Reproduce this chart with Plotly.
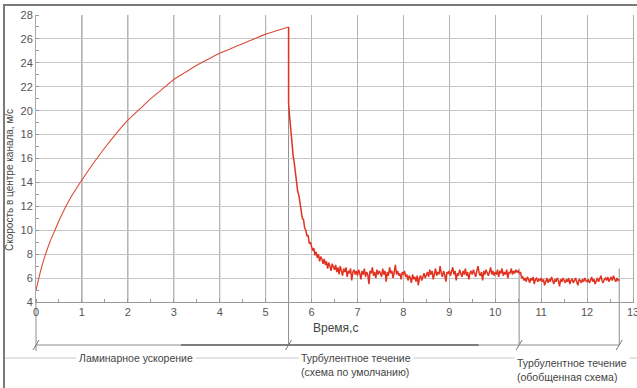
import plotly.graph_objects as go

# ---------------- data ----------------
lam_t = [0, 0.05, 0.1, 0.15, 0.2, 0.3, 0.4, 0.5, 0.75, 1, 1.25, 1.5, 1.75, 2, 2.25, 2.5,
         2.75, 3, 3.25, 3.5, 3.75, 4, 4.25, 4.5, 4.75, 5, 5.25, 5.5]
lam_v = [5.0, 5.8, 6.6, 7.3, 7.9, 9.0, 9.9, 10.8, 12.7, 14.2, 15.6, 16.9, 18.1, 19.2, 20.1, 21.0,
         21.8, 22.6, 23.2, 23.8, 24.3, 24.8, 25.2, 25.6, 26.0, 26.4, 26.7, 27.0]

turb_t0 = 5.5
turb_dt = 0.025
turb_v = [
    20.6, 19.4, 18.1, 17.3, 16.2, 15.6, 14.7, 14.1, 13.2, 12.9, 12.1, 11.8, 11.0, 10.9, 10.2, 10.0, 9.5, 9.6, 8.9, 9.0,
    8.7, 8.3, 8.5, 7.9, 8.2, 7.7, 8.0, 7.4, 7.8, 7.6, 7.2, 7.6, 7.1, 7.4, 6.8, 7.3, 7.0, 6.6, 7.2, 6.9,
    6.7, 7.1, 6.5, 6.9, 6.3, 7.0, 6.6, 6.2, 6.8, 6.5, 6.9, 6.1, 6.6, 6.4, 6.8, 5.8, 6.5, 6.7, 6.3, 6.6,
    6.2, 6.7, 6.4, 5.9, 6.6, 6.3, 6.8, 6.1, 6.5, 6.3, 5.5, 6.6, 6.4, 6.9, 6.2, 6.5, 6.0, 6.7, 6.3, 6.6,
    6.4, 6.1, 6.8, 6.3, 6.6, 5.7, 6.5, 6.2, 6.9, 6.4, 6.6, 6.0, 6.5, 7.1, 6.3, 6.6, 6.2, 6.4, 5.9, 6.5,
    6.3, 6.6, 6.1, 6.3, 5.8, 6.2, 6.0, 5.6, 6.3, 5.9, 6.1, 5.7, 6.2, 5.4, 6.0, 6.2, 5.8, 6.1, 6.4, 6.0,
    6.2, 6.5, 6.1, 6.7, 6.3, 6.6, 5.9, 6.4, 6.8, 6.2, 6.5, 6.3, 7.0, 6.4, 6.1, 6.6, 6.3, 5.7, 6.5, 6.4,
    6.6, 6.2, 6.5, 6.9, 6.3, 6.6, 5.8, 6.4, 6.2, 6.7, 6.4, 6.1, 6.6, 6.3, 6.8, 6.2, 6.5, 5.9, 6.4, 6.6,
    6.3, 6.7, 6.4, 6.1, 6.6, 7.0, 6.4, 6.2, 6.5, 5.8, 6.6, 6.3, 6.7, 6.4, 6.2, 6.5, 6.9, 6.3, 6.6, 6.2,
    6.5, 6.3, 6.7, 6.1, 6.6, 6.4, 6.8, 6.2, 6.5, 6.3, 6.7, 6.0, 6.5, 6.4, 6.8, 6.3, 6.6, 6.4, 6.7, 6.5,
    6.6, 6.4, 6.5, 6.0, 6.1, 5.8, 6.0, 5.7, 6.1, 5.9, 5.6, 6.0, 5.8, 6.1, 5.5, 5.9, 6.0, 5.7, 5.9, 5.8,
    6.0, 5.7, 5.9, 5.4, 5.8, 6.0, 5.6, 5.9, 5.7, 6.1, 5.8, 5.5, 5.9, 5.7, 6.0, 5.8, 5.3, 5.9, 5.7, 6.0,
    5.8, 5.6, 5.9, 5.7, 6.0, 5.5, 5.8, 5.9, 5.6, 5.8, 6.0, 5.7, 5.4, 5.9, 5.8, 5.6, 5.9, 5.7, 6.0, 5.8,
    5.7, 5.9, 5.6, 5.8, 6.1, 5.7, 5.9, 5.5, 5.8, 6.0, 5.7, 5.9, 6.2, 5.8, 5.6, 5.9, 6.0, 5.8, 6.1, 5.7,
    5.9, 6.1, 5.8, 6.2, 5.9, 5.7, 6.0, 5.8, 5.9,
]
turb_t = [round(turb_t0 + i * turb_dt, 4) for i in range(len(turb_v))]

x_ticks = list(range(0, 14))
y_ticks = list(range(4, 29, 2))

phase_bounds = [0, 5.5, 10.52, 12.7]
phase_top = [4, 27.0, 6.8, 6.8]   # where each boundary line starts (value axis)
phase_labels = ["Ламинарное ускорение",
                "Турбулентное течение<br>(схема по умолчанию)",
                "Турбулентное течение<br>(обобщенная схема)"]
x_title = "Время,с"
y_title = "Скорость в центре канала, м/с"

# ---------------- geometry helpers ----------------
W, H = 637, 388
ML, MR, MT, MB = 36, 4, 15, 86
PW, PH = W - ML - MR, H - MT - MB
X0, X1 = 0, 13
Y0, Y1 = 4, 28


def px_x(px):  # pixel -> paper x
    return (px - ML) / PW


def px_y(py):  # pixel -> paper y
    return (H - MB - py) / PH


def dx(t):  # data x -> paper x
    return (t - X0) / (X1 - X0)


def dy(v):
    return (v - Y0) / (Y1 - Y0)


RED = "#e2321f"
fig = go.Figure()
fig.add_trace(go.Scatter(x=lam_t, y=lam_v, mode="lines",
                         line=dict(color="#dc4a36", width=1.1, shape="spline", smoothing=0.6),
                         hoverinfo="skip", showlegend=False))
fig.add_trace(go.Scatter(x=[lam_t[-1]] + turb_t, y=[lam_v[-1]] + turb_v, mode="lines",
                         line=dict(color=RED, width=1.5), hoverinfo="skip",
                         showlegend=False))

font_fam = "Liberation Sans, Arial, sans-serif"
shapes = []
# outer frame (only top and left edges fall inside the page)
shapes.append(dict(type="rect", xref="paper", yref="paper", x0=px_x(4), x1=px_x(W + 20),
                   y0=px_y(5), y1=px_y(H + 20), line=dict(color="#7a7a7a", width=2),
                   fillcolor="rgba(0,0,0,0)", layer="above"))

# darker gridlines on the laminar part
for t in x_ticks[1:6]:
    shapes.append(dict(type="line", xref="paper", yref="paper", x0=dx(t), x1=dx(t),
                       y0=0, y1=1, line=dict(color="#8a8a8a", width=1), layer="between"))

# dimension lines
dim_y = px_y(345)
for t, top in zip(phase_bounds, phase_top):
    bottom = px_y(351) if t == 0 else dim_y
    shapes.append(dict(type="line", xref="paper", yref="paper", x0=dx(t), x1=dx(t),
                       y0=dy(top), y1=bottom, line=dict(color="#8c8c8c", width=1),
                       layer="between"))
    shapes.append(dict(type="line", xref="paper", yref="paper",
                       x0=dx(t) - 3 / PW, x1=dx(t) + 3 / PW,
                       y0=dim_y - 5 / PH, y1=dim_y + 5 / PH,
                       line=dict(color="#777", width=1)))
shapes.append(dict(type="line", xref="paper", yref="paper", x0=dx(phase_bounds[0]),
                   x1=dx(phase_bounds[-1]), y0=dim_y, y1=dim_y,
                   line=dict(color="#8c8c8c", width=1)))
shapes.append(dict(type="line", xref="paper", yref="paper", x0=dx(phase_bounds[0]) + 145 / PW,
                   x1=dx(phase_bounds[1]), y0=dim_y, y1=dim_y,
                   line=dict(color="#666", width=1.5)))
shapes.append(dict(type="line", xref="paper", yref="paper", x0=dx(phase_bounds[1]),
                   x1=dx(phase_bounds[1]) + 190 / PW, y0=dim_y, y1=dim_y,
                   line=dict(color="#666", width=1.5)))

# separator line across the label row
sep_y = px_y(358)
shapes.append(dict(type="line", xref="paper", yref="paper", x0=px_x(5), x1=px_x(W),
                   y0=sep_y, y1=sep_y, line=dict(color="#c8c8c8", width=1)))

annotations = [
    dict(text=y_title, xref="paper", yref="paper", x=px_x(10), y=px_y(180),
         xanchor="center", yanchor="middle",
         textangle=-90, showarrow=False, font=dict(size=10, color="#444", family=font_fam)),
    dict(text=x_title, xref="paper", yref="paper", x=dx(6) - 1 / PW, y=px_y(328),
         xanchor="left", yanchor="middle", showarrow=False,
         font=dict(size=12, color="#444", family=font_fam)),
    dict(text=phase_labels[0], xref="paper", yref="paper", x=px_x(136), y=px_y(358),
         xanchor="center", yanchor="middle", showarrow=False, bgcolor="white", borderpad=2,
         font=dict(size=10.5, color="#444", family=font_fam)),
    dict(text=phase_labels[1], xref="paper", yref="paper", x=px_x(298), y=px_y(365),
         xanchor="left", yanchor="middle", align="left", showarrow=False, bgcolor="white",
         borderpad=2, font=dict(size=10.5, color="#444", family=font_fam)),
    dict(text=phase_labels[2], xref="paper", yref="paper", x=px_x(514), y=px_y(370),
         xanchor="left", yanchor="middle", align="left", showarrow=False, bgcolor="white",
         borderpad=2, font=dict(size=10.5, color="#444", family=font_fam)),
]

fig.update_layout(
    width=W, height=H, margin=dict(l=ML, r=MR, t=MT, b=MB, autoexpand=False),
    paper_bgcolor="white", plot_bgcolor="white",
    shapes=shapes, annotations=annotations,
    xaxis=dict(range=[X0, X1], tickvals=x_ticks, ticktext=[str(v) for v in x_ticks],
               automargin=False, ticklabeloverflow="allow",
               showgrid=True, gridcolor="#b4b4b4", gridwidth=1,
               showline=True, linecolor="#999", linewidth=1, zeroline=False,
               ticks="", tickfont=dict(size=11, color="#555", family=font_fam),
               minor=dict(dtick=0.5, tick0=0, ticks="inside", ticklen=3,
                          tickcolor="#999", showgrid=False)),
    yaxis=dict(range=[Y0, Y1], tickvals=y_ticks, ticktext=[str(v) for v in y_ticks],
               automargin=False, mirror=True,
               showgrid=True, gridcolor="#c6c6c6", gridwidth=1,
               showline=True, linecolor="#aaa", linewidth=1, zeroline=False,
               ticks="", tickfont=dict(size=11, color="#555", family=font_fam),
               minor=dict(dtick=1, tick0=0, ticks="inside", ticklen=3,
                          tickcolor="#999", showgrid=False)),
)

fig.write_html("out.html", config={"displayModeBar": False},
               post_script="document.body.style.margin='0px';document.body.style.overflow='hidden';")
